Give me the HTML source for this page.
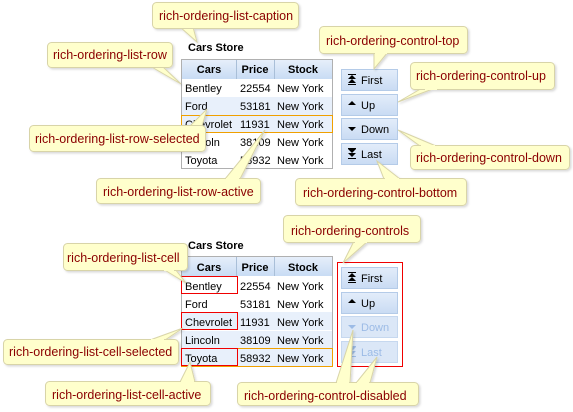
<!DOCTYPE html>
<html><head><meta charset="utf-8"><style>
html,body{margin:0;padding:0;background:#fff;}
svg{display:block;font-family:"Liberation Sans",sans-serif;}
.lbl{fill:#ffffcc;stroke:#d8d4a8;stroke-width:1;}
.tail{fill:#ffffcc;stroke:#d8d4a8;stroke-width:1;}
.lt{fill:#8b0000;font-size:12.5px;}
.ht{font-size:11px;font-weight:bold;fill:#000;text-anchor:middle;}
.ct{font-size:11px;fill:#000;}
.bt{font-size:11px;fill:#000;}
.bd{font-size:11px;fill:#9cbbe6;}
</style></head><body>
<svg width="573" height="412" viewBox="0 0 573 412" xmlns="http://www.w3.org/2000/svg">
<defs>
<linearGradient id="hg" x1="0" y1="0" x2="0" y2="1"><stop offset="0" stop-color="#e6effa"/><stop offset="1" stop-color="#c8dcf4"/></linearGradient>
<linearGradient id="bg" x1="0" y1="0" x2="0" y2="1"><stop offset="0" stop-color="#e3edfa"/><stop offset="1" stop-color="#c9dbf3"/></linearGradient>
<filter id="sh" x="-10%" y="-20%" width="130%" height="150%"><feDropShadow dx="1.5" dy="1.5" stdDeviation="1" flood-color="#000" flood-opacity="0.15"/></filter>
</defs>

<text x="188" y="51" font-size="11" font-weight="bold">Cars Store</text>
<rect x="181.5" y="59.5" width="151" height="109" fill="#fff" stroke="#b0b0b0"/>
<rect x="182" y="60" width="150" height="19" fill="url(#hg)"/>
<line x1="236.5" y1="60" x2="236.5" y2="79" stroke="#a9bfd8"/>
<line x1="274.5" y1="60" x2="274.5" y2="79" stroke="#a9bfd8"/>
<text x="209" y="73" class="ht">Cars</text><text x="255" y="73" class="ht">Price</text><text x="303" y="73" class="ht">Stock</text>
<rect x="182" y="97" width="150" height="18" fill="#e8f0fb"/>
<rect x="182" y="115" width="150" height="18" fill="#e8f0fb"/>
<rect x="181.5" y="115.5" width="151" height="17" fill="none" stroke="#f0a000"/>
<g class="ct">
<text x="185" y="92">Bentley</text><text x="240" y="92">22554</text><text x="277" y="92">New York</text>
<text x="185" y="110">Ford</text><text x="240" y="110">53181</text><text x="277" y="110">New York</text>
<text x="185" y="128">Chevrolet</text><text x="240" y="128">11931</text><text x="277" y="128">New York</text>
<text x="185" y="146">Lincoln</text><text x="240" y="146">38109</text><text x="277" y="146">New York</text>
<text x="185" y="164">Toyota</text><text x="240" y="164">58932</text><text x="277" y="164">New York</text>
</g>

<rect x="341.5" y="69.5" width="56" height="21" fill="url(#bg)" stroke="#b4cbe8"/>
<rect x="341.5" y="94.5" width="56" height="21" fill="url(#bg)" stroke="#b4cbe8"/>
<rect x="341.5" y="118.5" width="56" height="21" fill="url(#bg)" stroke="#b4cbe8"/>
<rect x="341.5" y="143.5" width="56" height="21" fill="url(#bg)" stroke="#b4cbe8"/>
<g fill="#000">
<rect x="348" y="74" width="8" height="1"/><polygon points="352,75 348,79 356,79"/><polygon points="352,79 348,83 356,83"/><rect x="348" y="84" width="8" height="1"/>
<polygon points="352,101 348,105 356,105"/>
<polygon points="348,127 356,127 352,131"/>
<rect x="348" y="148" width="8" height="1"/><polygon points="348,149 356,149 352,153"/><polygon points="348,153 356,153 352,157"/><rect x="348" y="158" width="8" height="1"/>
</g>
<text x="361" y="84" class="bt">First</text>
<text x="361" y="109" class="bt">Up</text>
<text x="361" y="133" class="bt">Down</text>
<text x="361" y="158" class="bt">Last</text>

<text x="188" y="249" font-size="11" font-weight="bold">Cars Store</text>
<rect x="181.5" y="256.5" width="151" height="110" fill="#fff" stroke="#b0b0b0"/>
<rect x="182" y="257" width="150" height="19" fill="url(#hg)"/>
<line x1="236.5" y1="257" x2="236.5" y2="276" stroke="#a9bfd8"/>
<line x1="274.5" y1="257" x2="274.5" y2="276" stroke="#a9bfd8"/>
<text x="209" y="271" class="ht">Cars</text><text x="255" y="271" class="ht">Price</text><text x="303" y="271" class="ht">Stock</text>
<rect x="182" y="312" width="150" height="54" fill="#e8f0fb"/>
<line x1="182" y1="330.5" x2="332" y2="330.5" stroke="#fff"/>
<rect x="181.5" y="348.5" width="151" height="18" fill="none" stroke="#f0a000"/>
<rect x="181.5" y="276.5" width="56" height="17" fill="none" stroke="#f00000"/>
<rect x="181.5" y="312.5" width="56" height="17" fill="none" stroke="#f00000"/>
<rect x="181.5" y="348.5" width="56" height="17" fill="none" stroke="#f00000"/>
<g class="ct">
<text x="185" y="290">Bentley</text><text x="240" y="290">22554</text><text x="277" y="290">New York</text>
<text x="185" y="308">Ford</text><text x="240" y="308">53181</text><text x="277" y="308">New York</text>
<text x="185" y="326">Chevrolet</text><text x="240" y="326">11931</text><text x="277" y="326">New York</text>
<text x="185" y="344">Lincoln</text><text x="240" y="344">38109</text><text x="277" y="344">New York</text>
<text x="185" y="362">Toyota</text><text x="240" y="362">58932</text><text x="277" y="362">New York</text>
</g>

<rect x="337.5" y="262.5" width="65" height="104" fill="#fff" stroke="#f00000"/>
<rect x="341.5" y="267.5" width="56" height="21" fill="url(#bg)" stroke="#b4cbe8"/>
<rect x="341.5" y="292.5" width="56" height="21" fill="url(#bg)" stroke="#b4cbe8"/>
<rect x="341.5" y="316.5" width="56" height="21" fill="#dbe7f7" stroke="#c6d8ef"/>
<rect x="341.5" y="341.5" width="56" height="21" fill="#dbe7f7" stroke="#c6d8ef"/>
<g fill="#000">
<rect x="348" y="272" width="8" height="1"/><polygon points="352,273 348,277 356,277"/><polygon points="352,277 348,281 356,281"/><rect x="348" y="282" width="8" height="1"/>
<polygon points="352,299 348,303 356,303"/>
</g>
<g fill="#9cbbe6">
<polygon points="348,325 356,325 352,329"/>
<rect x="348" y="346" width="8" height="1"/><polygon points="348,347 356,347 352,351"/><polygon points="348,351 356,351 352,355"/><rect x="348" y="356" width="8" height="1"/>
</g>
<text x="361" y="282" class="bt">First</text>
<text x="361" y="307" class="bt">Up</text>
<text x="361" y="331" class="bd">Down</text>
<text x="361" y="356" class="bd">Last</text>

<g filter="url(#sh)">
<polygon class="tail" points="180,27 193,27 197,42"/>
<polygon class="tail" points="150,66 162,66 181,84"/>
<polygon class="tail" points="190,126 202,126 207,109"/>
<polygon class="tail" points="225,179 240,179 265,130"/>
<polygon class="tail" points="374,52 388,52 374,69"/>
<polygon class="tail" points="424,87 438,87 398,102"/>
<polygon class="tail" points="420,146 436,146 398,130"/>
<polygon class="tail" points="384,179 400,179 377,161"/>
<polygon class="tail" points="354,241 368,241 343,263"/>
<polygon class="tail" points="163,269 175,269 186,283"/>
<polygon class="tail" points="150,340 165,340 183,328"/>
<polygon class="tail" points="180,382 195,382 190,362"/>
<polygon class="tail" points="336,383 350,383 353,330"/>
<polygon class="tail" points="356,383 370,383 377,357"/>
<rect class="lbl" x="152.5" y="2.5" width="146" height="26" rx="4"/>
<rect class="lbl" x="47.5" y="42.5" width="125" height="25" rx="4"/>
<rect class="lbl" x="29.5" y="125.5" width="176" height="26" rx="4"/>
<rect class="lbl" x="96.5" y="178.5" width="164" height="25" rx="4"/>
<rect class="lbl" x="319.5" y="26.5" width="148" height="27" rx="4"/>
<rect class="lbl" x="410.5" y="62.5" width="144" height="27" rx="4"/>
<rect class="lbl" x="410.5" y="145.5" width="159" height="24" rx="4"/>
<rect class="lbl" x="295.5" y="178.5" width="171" height="27" rx="4"/>
<rect class="lbl" x="283.5" y="215.5" width="137" height="27" rx="4"/>
<rect class="lbl" x="63.5" y="243.5" width="124" height="27" rx="4"/>
<rect class="lbl" x="3.5" y="339.5" width="175" height="25" rx="4"/>
<rect class="lbl" x="45.5" y="381.5" width="165" height="24" rx="4"/>
<rect class="lbl" x="237.5" y="382.5" width="181" height="23" rx="4"/>
</g>
<g fill="#ffffcc">
<rect x="181" y="26" width="11" height="2"/>
<rect x="151" y="65" width="10" height="2"/>
<rect x="191" y="126" width="10" height="2"/>
<rect x="226" y="178" width="13" height="2"/>
<rect x="375" y="52" width="12" height="2"/>
<rect x="425" y="88" width="12" height="2"/>
<rect x="421" y="145" width="14" height="2"/>
<rect x="385" y="178" width="14" height="2"/>
<rect x="355" y="241" width="12" height="2"/>
<rect x="164" y="269" width="10" height="2"/>
<rect x="151" y="339" width="13" height="2"/>
<rect x="181" y="381" width="13" height="2"/>
<rect x="337" y="382" width="12" height="2"/>
<rect x="357" y="382" width="12" height="2"/>
</g>
<g class="lt">
<text x="159" y="20">rich-ordering-list-caption</text>
<text x="53" y="59">rich-ordering-list-row</text>
<text x="35" y="143">rich-ordering-list-row-selected</text>
<text x="103" y="196">rich-ordering-list-row-active</text>
<text x="326" y="45">rich-ordering-control-top</text>
<text x="416" y="80">rich-ordering-control-up</text>
<text x="416" y="162">rich-ordering-control-down</text>
<text x="303" y="197">rich-ordering-control-bottom</text>
<text x="291" y="235">rich-ordering-controls</text>
<text x="67" y="262">rich-ordering-list-cell</text>
<text x="9" y="356">rich-ordering-list-cell-selected</text>
<text x="52" y="399">rich-ordering-list-cell-active</text>
<text x="244" y="400">rich-ordering-control-disabled</text>
</g>
</svg>
</body></html>
